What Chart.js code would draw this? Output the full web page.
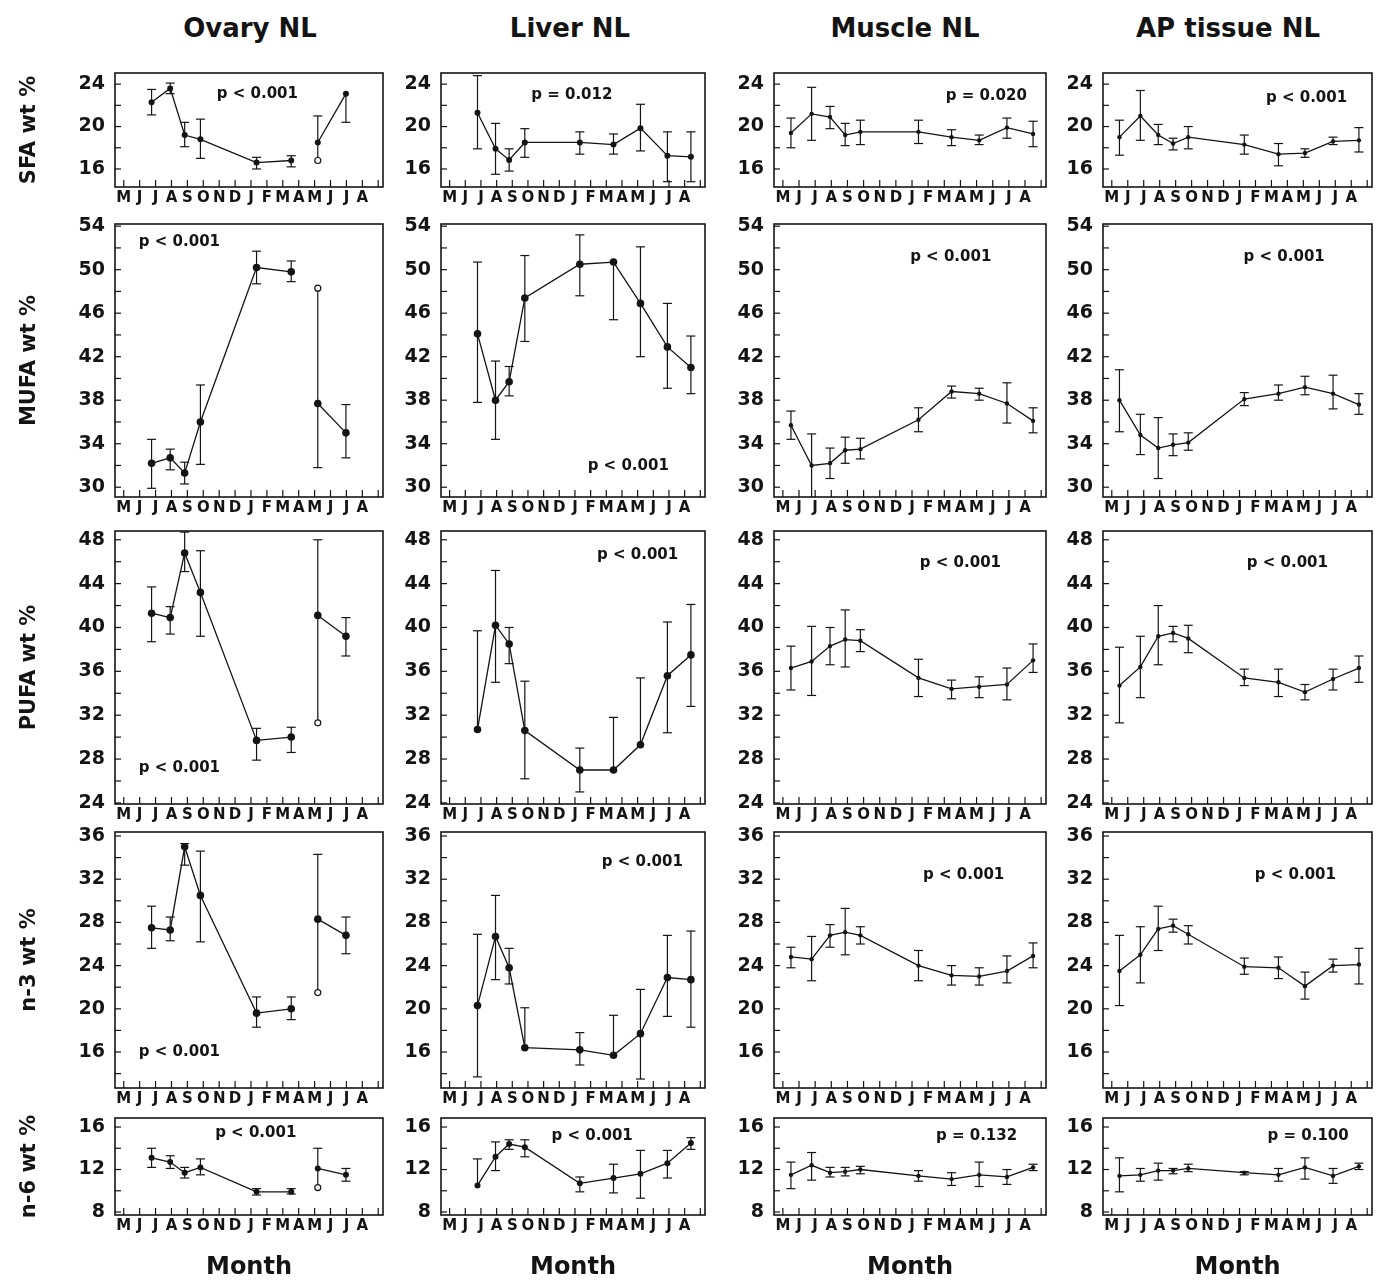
<!DOCTYPE html>
<html>
<head>
<meta charset="utf-8">
<script src="https://cdn.jsdelivr.net/npm/chart.js@4.4.1/dist/chart.umd.min.js"></script>
<style>
  body { margin: 0; background: #fff; width: 1386px; height: 1282px; position: relative; overflow: hidden;
         font-family: "DejaVu Sans", "Liberation Sans", Arial, sans-serif; }
  .head { position: absolute; top: 12px; line-height: 32px; font-weight: bold; font-size: 26px; color: #141414;
          transform: translateX(-50%); white-space: nowrap; }
  .panel { position: absolute; }
</style>
</head>
<body>
<script>
/* ---- categories / labels ---- */
const TISSUES = ["Ovary NL", "Liver NL", "Muscle NL", "AP tissue NL"];
const ROW_TITLES = ["SFA wt %", "MUFA wt %", "PUFA wt %", "n-3 wt %", "n-6 wt %"];
const MONTHS = ["M","J","J","A","S","O","N","D","J","F","M","A","M","J","J","A"];

/* sampling dates, in months from the first May tick */
const ovaryX  = [1.75, 2.92, 3.83, 4.82, 8.35, 10.53, 12.2, 13.97];
const liverX  = [1.78, 2.93, 3.8, 4.8, 8.31, 10.46, 12.18, 13.9, 15.4];
const muscleX = [0.5, 1.78, 2.92, 3.86, 4.8, 8.4, 10.45, 12.16, 13.88, 15.5];
const apX     = [0.48, 1.79, 2.91, 3.84, 4.79, 8.3, 10.44, 12.1, 13.86, 15.48];

/* ---- Ovary ---- */
const ovarySFA    = [22.3, 23.6, 19.2, 18.8, 16.6, 16.8, 18.5, 23.1];
const ovarySFAhi  = [23.5, 24.1, 20.4, 20.7, 17.1, 17.25, 21.0, 23.1];
const ovarySFAlo  = [21.1, 23.1, 18.1, 17.0, 16.0, 16.2, 16.8, 20.4];
const ovaryMUFA   = [32.2, 32.7, 31.3, 36.0, 50.2, 49.8, 37.7, 35.0];
const ovaryMUFAhi = [34.4, 33.5, 32.3, 39.4, 51.7, 50.8, 48.3, 37.6];
const ovaryMUFAlo = [29.9, 31.6, 30.3, 32.1, 48.7, 48.9, 31.8, 32.7];
const ovaryPUFA   = [41.3, 40.9, 46.8, 43.2, 29.7, 30.0, 41.1, 39.2];
const ovaryPUFAhi = [43.7, 41.9, 48.7, 47.0, 30.8, 30.9, 48.0, 40.9];
const ovaryPUFAlo = [38.7, 39.4, 45.1, 39.2, 27.9, 28.6, 31.3, 37.4];
const ovaryN3     = [27.5, 27.3, 35.0, 30.5, 19.6, 20.0, 28.3, 26.8];
const ovaryN3hi   = [29.5, 28.5, 35.3, 34.6, 21.1, 21.1, 34.3, 28.5];
const ovaryN3lo   = [25.6, 26.3, 33.3, 26.2, 18.3, 19.0, 21.5, 25.1];
const ovaryN6     = [13.1, 12.7, 11.7, 12.2, 9.9, 9.9, 12.1, 11.5];
const ovaryN6hi   = [14.0, 13.3, 12.2, 13.0, 10.2, 10.2, 14.0, 12.1];
const ovaryN6lo   = [12.2, 12.1, 11.2, 11.5, 9.6, 9.7, 10.3, 10.9];
/* single May value shown as an open circle */
const ovaryOpen   = [16.8, 48.3, 31.3, 21.5, 10.3];

/* ---- Liver ---- */
const liverSFA    = [21.3, 17.9, 16.85, 18.5, 18.5, 18.3, 19.85, 17.25, 17.15];
const liverSFAhi  = [24.8, 20.3, 17.9, 19.8, 19.5, 19.3, 22.1, 19.5, 19.5];
const liverSFAlo  = [17.9, 15.5, 15.8, 17.1, 17.4, 17.4, 17.7, 14.8, 14.8];
const liverMUFA   = [44.1, 38.0, 39.7, 47.4, 50.5, 50.7, 46.9, 42.9, 41.0];
const liverMUFAhi = [50.7, 41.6, 41.1, 51.3, 53.2, 50.7, 52.1, 46.9, 43.9];
const liverMUFAlo = [37.8, 34.4, 38.4, 43.4, 47.6, 45.4, 42.0, 39.1, 38.6];
const liverPUFA   = [30.7, 40.2, 38.5, 30.6, 27.0, 27.0, 29.3, 35.6, 37.5];
const liverPUFAhi = [39.7, 45.2, 40.0, 35.1, 29.0, 31.8, 35.4, 40.5, 42.1];
const liverPUFAlo = [30.7, 35.0, 36.7, 26.2, 25.0, 27.0, 29.3, 30.4, 32.8];
const liverN3     = [20.3, 26.7, 23.8, 16.4, 16.2, 15.7, 17.7, 22.9, 22.7];
const liverN3hi   = [26.9, 30.5, 25.6, 20.1, 17.8, 19.4, 21.8, 26.8, 27.2];
const liverN3lo   = [13.7, 22.7, 22.3, 16.4, 14.8, 15.7, 13.5, 19.3, 18.3];
const liverN6     = [10.5, 13.2, 14.4, 14.1, 10.7, 11.2, 11.6, 12.6, 14.5];
const liverN6hi   = [13.0, 14.6, 14.8, 14.8, 11.3, 12.5, 13.8, 13.8, 15.0];
const liverN6lo   = [10.5, 11.9, 13.9, 13.2, 9.9, 9.8, 9.3, 11.2, 13.9];

/* ---- Muscle ---- */
const muscleSFA    = [19.4, 21.2, 20.9, 19.2, 19.5, 19.5, 19.0, 18.7, 19.9, 19.3];
const muscleSFAhi  = [20.8, 23.7, 21.9, 20.3, 20.6, 20.6, 19.7, 19.2, 20.8, 20.5];
const muscleSFAlo  = [18.0, 18.7, 19.8, 18.2, 18.3, 18.4, 18.2, 18.3, 18.9, 18.1];
const muscleMUFA   = [35.7, 32.0, 32.2, 33.4, 33.5, 36.2, 38.8, 38.6, 37.7, 36.1];
const muscleMUFAhi = [37.0, 34.9, 33.6, 34.6, 34.5, 37.3, 39.3, 39.1, 39.6, 37.3];
const muscleMUFAlo = [34.4, 28.0, 30.8, 32.2, 32.6, 35.1, 38.2, 38.0, 35.9, 35.0];
const musclePUFA   = [36.3, 36.9, 38.3, 38.9, 38.8, 35.4, 34.4, 34.6, 34.8, 37.0];
const musclePUFAhi = [38.3, 40.1, 40.0, 41.6, 39.8, 37.1, 35.2, 35.5, 36.3, 38.5];
const musclePUFAlo = [34.3, 33.8, 36.6, 36.4, 37.8, 33.7, 33.5, 33.6, 33.4, 35.9];
const muscleN3     = [24.8, 24.6, 26.8, 27.1, 26.8, 24.0, 23.1, 23.0, 23.5, 24.9];
const muscleN3hi   = [25.7, 26.7, 27.8, 29.3, 27.6, 25.4, 24.0, 23.8, 24.9, 26.1];
const muscleN3lo   = [23.8, 22.6, 25.7, 25.0, 26.0, 22.6, 22.2, 22.2, 22.4, 23.8];
const muscleN6     = [11.5, 12.4, 11.7, 11.8, 12.0, 11.4, 11.1, 11.5, 11.3, 12.2];
const muscleN6hi   = [12.7, 13.6, 12.2, 12.2, 12.3, 11.9, 11.7, 12.7, 12.0, 12.5];
const muscleN6lo   = [10.2, 11.0, 11.3, 11.4, 11.6, 10.9, 10.5, 10.4, 10.6, 11.9];

/* ---- AP tissue ---- */
const apSFA    = [19.0, 21.0, 19.2, 18.4, 19.0, 18.3, 17.4, 17.5, 18.6, 18.7];
const apSFAhi  = [20.6, 23.4, 20.2, 18.9, 20.0, 19.2, 18.4, 17.9, 19.0, 19.9];
const apSFAlo  = [17.3, 18.7, 18.3, 17.8, 17.9, 17.4, 16.3, 17.1, 18.3, 17.6];
const apMUFA   = [38.0, 34.8, 33.6, 33.9, 34.1, 38.1, 38.6, 39.2, 38.6, 37.6];
const apMUFAhi = [40.8, 36.7, 36.4, 34.9, 35.0, 38.7, 39.4, 40.2, 40.3, 38.6];
const apMUFAlo = [35.1, 33.0, 30.8, 32.9, 33.4, 37.5, 38.0, 38.5, 37.2, 36.7];
const apPUFA   = [34.7, 36.4, 39.2, 39.5, 39.0, 35.4, 35.0, 34.1, 35.3, 36.3];
const apPUFAhi = [38.2, 39.2, 42.0, 40.1, 40.2, 36.2, 36.2, 34.8, 36.2, 37.4];
const apPUFAlo = [31.3, 33.6, 36.6, 38.7, 37.7, 34.7, 33.7, 33.4, 34.3, 35.0];
const apN3     = [23.5, 25.0, 27.4, 27.7, 26.9, 23.9, 23.8, 22.1, 24.0, 24.1];
const apN3hi   = [26.8, 27.6, 29.5, 28.3, 27.7, 24.7, 24.8, 23.4, 24.6, 25.6];
const apN3lo   = [20.3, 22.4, 25.4, 27.1, 26.0, 23.2, 22.8, 20.9, 23.4, 22.3];
const apN6     = [11.4, 11.5, 11.9, 11.9, 12.1, 11.7, 11.5, 12.2, 11.4, 12.3];
const apN6hi   = [13.1, 12.1, 12.6, 12.1, 12.5, 11.8, 12.1, 13.1, 12.1, 12.6];
const apN6lo   = [9.9, 10.9, 11.0, 11.6, 11.8, 11.5, 10.9, 11.1, 10.7, 12.0];

/* p-values */
const P_TEXT = [
  ["p < 0.001", "p < 0.001", "p < 0.001", "p < 0.001", "p < 0.001"],
  ["p = 0.012", "p < 0.001", "p < 0.001", "p < 0.001", "p < 0.001"],
  ["p = 0.020", "p < 0.001", "p < 0.001", "p < 0.001", "p = 0.132"],
  ["p < 0.001", "p < 0.001", "p < 0.001", "p < 0.001", "p = 0.100"]
];

/* ---- tables built from the arrays above ---- */
const XS = [ovaryX, liverX, muscleX, apX];
const SERIES = [
  [[ovarySFA, ovarySFAlo, ovarySFAhi], [ovaryMUFA, ovaryMUFAlo, ovaryMUFAhi], [ovaryPUFA, ovaryPUFAlo, ovaryPUFAhi],
   [ovaryN3, ovaryN3lo, ovaryN3hi], [ovaryN6, ovaryN6lo, ovaryN6hi]],
  [[liverSFA, liverSFAlo, liverSFAhi], [liverMUFA, liverMUFAlo, liverMUFAhi], [liverPUFA, liverPUFAlo, liverPUFAhi],
   [liverN3, liverN3lo, liverN3hi], [liverN6, liverN6lo, liverN6hi]],
  [[muscleSFA, muscleSFAlo, muscleSFAhi], [muscleMUFA, muscleMUFAlo, muscleMUFAhi], [musclePUFA, musclePUFAlo, musclePUFAhi],
   [muscleN3, muscleN3lo, muscleN3hi], [muscleN6, muscleN6lo, muscleN6hi]],
  [[apSFA, apSFAlo, apSFAhi], [apMUFA, apMUFAlo, apMUFAhi], [apPUFA, apPUFAlo, apPUFAhi],
   [apN3, apN3lo, apN3hi], [apN6, apN6lo, apN6hi]]
];

/* ---- layout / axis settings ---- */
const INK = "#141414";
const FONT = "'DejaVu Sans', 'Liberation Sans', Arial, sans-serif";
const COLS = [{ l: 115, r: 383 }, { l: 441, r: 705 }, { l: 774, r: 1046 }, { l: 1103, r: 1372 }];
const ROWS = [{ t: 73, b: 187 }, { t: 224, b: 497 }, { t: 531, b: 804 }, { t: 832, b: 1088 }, { t: 1118, b: 1215 }];
const Y_AX = [
  { min: 14.3, max: 25.05, base: 16 },
  { min: 29.1, max: 54.2, base: 30 },
  { min: 23.9, max: 48.8, base: 24 },
  { min: 12.67, max: 36.37, base: 16 },
  { min: 7.72, max: 16.85, base: 8 }
];
const HEAD_X = [250, 570, 905, 1228];
const P_AT = [
  [[8.4, 23.1], [3.5, 52.5], [3.5, 27.2], [3.5, 16.0], [8.3, 15.4]],
  [[7.8, 23.0], [11.4, 31.9], [12.0, 46.6], [12.3, 33.6], [9.1, 15.1]],
  [[12.6, 22.9], [10.4, 51.2], [11.0, 45.9], [11.2, 32.4], [12.0, 15.1]],
  [[12.2, 22.7], [10.8, 51.2], [11.0, 45.9], [11.5, 32.4], [12.3, 15.1]]
];

/* error bars, frame, inward ticks and p-value text */
const deco = {
  id: "deco",
  beforeDatasetsDraw(chart, args, o) {
    const { ctx, chartArea: a, scales: { x, y } } = chart;
    ctx.save();
    ctx.beginPath();
    ctx.rect(a.left, a.top, a.right - a.left, a.bottom - a.top);
    ctx.clip();
    ctx.strokeStyle = INK;
    ctx.lineWidth = 1.2;
    o.xs.forEach((xv, i) => {
      const px = x.getPixelForValue(xv);
      const v = o.val[i], lo = o.lo[i], hi = o.hi[i], op = o.open[i];
      ctx.beginPath();
      ctx.moveTo(px, y.getPixelForValue(lo));
      ctx.lineTo(px, y.getPixelForValue(hi));
      ctx.stroke();
      [lo, hi].forEach(e => {
        if (Math.abs(e - v) < 0.05 || e === op) return;
        const py = y.getPixelForValue(e);
        ctx.beginPath();
        ctx.moveTo(px - o.cap, py);
        ctx.lineTo(px + o.cap, py);
        ctx.stroke();
      });
    });
    ctx.restore();
  },
  afterDraw(chart, args, o) {
    const { ctx, chartArea: a, scales: { x, y } } = chart;
    ctx.save();
    ctx.strokeStyle = INK;
    ctx.lineWidth = 1.6;
    ctx.strokeRect(a.left, a.top, a.right - a.left, a.bottom - a.top);
    ctx.lineWidth = 1.2;
    y.ticks.forEach(t => {
      const py = y.getPixelForValue(t.value);
      ctx.beginPath(); ctx.moveTo(a.left, py); ctx.lineTo(a.left + 6, py); ctx.stroke();
    });
    x.ticks.forEach(t => {
      const px = x.getPixelForValue(t.value);
      ctx.beginPath(); ctx.moveTo(px, a.bottom); ctx.lineTo(px, a.bottom - 7); ctx.stroke();
    });
    ctx.fillStyle = INK;
    ctx.font = "bold 15px " + FONT;
    ctx.textAlign = "center";
    ctx.textBaseline = "middle";
    ctx.fillText(o.p, x.getPixelForValue(o.pAt[0]), y.getPixelForValue(o.pAt[1]));
    ctx.restore();
  }
};

/* column headings */
TISSUES.forEach((t, c) => {
  const d = document.createElement("div");
  d.className = "head";
  d.style.left = HEAD_X[c] + "px";
  d.textContent = t;
  document.body.appendChild(d);
});

const PAD_T = 24, PAD_R = 10;

TISSUES.forEach((tissue, c) => {
  ROW_TITLES.forEach((rowTitle, r) => {
    const col = COLS[c], row = ROWS[r], ax = Y_AX[r];
    const [val, lo, hi] = SERIES[c][r];
    const xs = XS[c];
    const open = xs.map((_, i) => (c === 0 && i === 6) ? ovaryOpen[r] : null);
    const gutL = c === 0 ? col.l : 62;
    const gutB = r === 4 ? 1282 - row.b : 28;
    const W = gutL + (col.r - col.l) + PAD_R;
    const H = PAD_T + (row.b - row.t) + gutB;

    const box = document.createElement("div");
    box.className = "panel";
    box.style.left = (col.l - gutL) + "px";
    box.style.top = (row.t - PAD_T) + "px";
    const cv = document.createElement("canvas");
    cv.width = W; cv.height = H;
    cv.style.width = W + "px"; cv.style.height = H + "px";
    box.appendChild(cv);
    document.body.appendChild(box);

    const big = c < 2;
    const rad = big ? (r === 0 || r === 4 ? 3 : 3.8) : 2.2;

    new Chart(cv.getContext("2d"), {
      type: "scatter",
      data: {
        datasets: [
          {
            data: xs.map((x, i) => ({ x, y: val[i] })),
            showLine: true,
            borderColor: INK,
            borderWidth: 1.3,
            pointRadius: rad,
            pointBackgroundColor: INK,
            pointBorderWidth: 0,
            tension: 0,
            segment: {
              borderColor: s => (c === 0 && s.p0DataIndex === 5) ? "rgba(0,0,0,0)" : undefined
            }
          },
          {
            data: xs.map((x, i) => open[i] == null ? null : { x, y: open[i] }).filter(Boolean),
            showLine: false,
            pointRadius: 3,
            pointBackgroundColor: "#fff",
            pointBorderColor: INK,
            pointBorderWidth: 1.2
          }
        ]
      },
      options: {
        responsive: false,
        animation: false,
        events: [],
        layout: { padding: { top: PAD_T, right: PAD_R, left: 0, bottom: 0 } },
        scales: {
          x: {
            type: "linear", min: -0.55, max: 16.3,
            afterFit: s => { s.height = gutB; },
            grid: { display: false, drawTicks: false },
            border: { display: false },
            ticks: {
              stepSize: 1, includeBounds: false, autoSkip: false, maxRotation: 0, padding: 2,
              color: INK, font: { family: FONT, weight: "bold", size: 15 },
              callback: v => MONTHS[v] ?? ""
            },
            title: {
              display: r === 4, text: "Month", color: INK, padding: 0,
              font: { family: FONT, weight: "bold", size: 24 }
            }
          },
          y: {
            min: ax.min, max: ax.max,
            afterFit: s => { s.width = gutL; },
            grid: { display: false, drawTicks: false },
            border: { display: false },
            ticks: {
              stepSize: 2, includeBounds: false, autoSkip: false, padding: 10,
              color: INK, font: { family: FONT, weight: "bold", size: 19 },
              callback: v => ((v - ax.base) % 4 === 0 ? v : "")
            },
            title: {
              display: c === 0, text: rowTitle, color: INK, padding: { top: 17 },
              font: { family: FONT, weight: "bold", size: 21 }
            }
          }
        },
        plugins: {
          legend: { display: false },
          tooltip: { enabled: false },
          deco: { xs, val, lo, hi, open, cap: 4.5, p: P_TEXT[c][r], pAt: P_AT[c][r] }
        }
      },
      plugins: [deco]
    });
  });
});
</script>
</body>
</html>
